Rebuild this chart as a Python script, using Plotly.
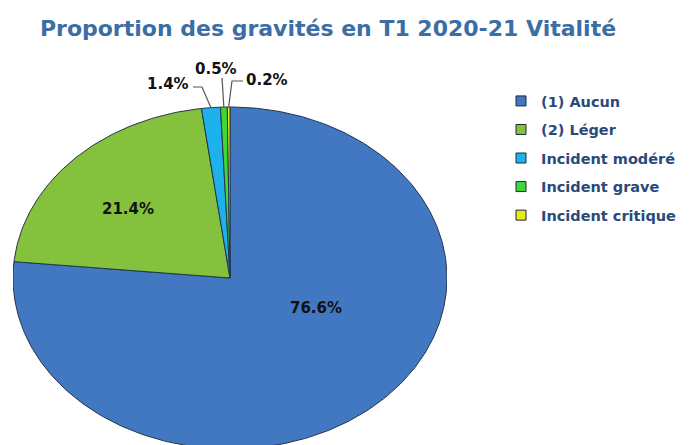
import numpy as np
import plotly.graph_objects as go

categories = ["(1) Aucun", "(2) Léger", "Incident modéré", "Incident grave", "Incident critique"]
values = [76.6, 21.4, 1.4, 0.5, 0.2]
colors = ["#4277c2", "#84c13d", "#1db2ec", "#3fd83a", "#e8e81a"]
labels = ["76.6%", "21.4%", "1.4%", "0.5%", "0.2%"]

OFF = 8  # page body margin
W, H = 694, 445
cx_px, cy_px = 230 - OFF, 278 - OFF
rx_px, ry_px = 217, 171
ml, mr, mt, mb = cx_px - rx_px, W - (cx_px + rx_px), 42, 0
x_rng = [-1, 1]
y_top = 1 + (cy_px - ry_px - mt) / ry_px
y_bot = y_top - (H - mt - mb) / ry_px

fig = go.Figure()
vals = np.array(values, dtype=float)
frac = vals / vals.sum()
cum = np.concatenate([[0], np.cumsum(frac)])
outline = "#24364a"

for i, name in enumerate(categories):
    t0, t1 = cum[i] * 2 * np.pi, cum[i + 1] * 2 * np.pi
    n = max(3, int((t1 - t0) / (2 * np.pi) * 400))
    th = np.linspace(t0, t1, n)
    xs = np.concatenate([[0], np.sin(th), [0]])
    ys = np.concatenate([[0], np.cos(th), [0]])
    fig.add_trace(go.Scatter(x=xs, y=ys, mode="lines", fill="toself",
                             fillcolor=colors[i], line=dict(color=outline, width=1),
                             showlegend=False, hoverinfo="skip"))

# legend entries
for i, name in enumerate(categories):
    fig.add_trace(go.Scatter(x=[None], y=[None], mode="markers", name=f"<b>{name}</b>",
                             legendgroup=f"g{i}",
                             marker=dict(symbol="square", size=10, color=colors[i],
                                         line=dict(color="#1e2a3a", width=1))))

# pixel (reference) -> data helpers for label placement
def px2x(px):
    return (px - OFF - cx_px) / rx_px

def px2y(py):
    return (cy_px - (py - OFF)) / ry_px

mid = (cum[:-1] + cum[1:]) / 2 * 2 * np.pi
lab_font = dict(family="DejaVu Sans", size=15, color="#111111")

# inside labels
inside_pos = {0: (316, 308), 1: (128, 209)}
for i, (px, py) in inside_pos.items():
    fig.add_annotation(x=px2x(px), y=px2y(py), text=f"<b>{labels[i]}</b>",
                       showarrow=False, font=lab_font)

# outside labels with leader lines
outside = {2: dict(text=(168, 84), elbow=[(193, 87), (202, 87)]),
           3: dict(text=(216, 69), elbow=[(222, 78)]),
           4: dict(text=(267, 80), elbow=[(243, 81), (232, 81)])}
for i, o in outside.items():
    ex, ey = np.sin(mid[i]), np.cos(mid[i])
    pts = [(px2x(a), px2y(b)) for a, b in o["elbow"]] + [(ex, ey)]
    fig.add_trace(go.Scatter(x=[p[0] for p in pts], y=[p[1] for p in pts], mode="lines",
                             line=dict(color="#555555", width=1.2), showlegend=False,
                             hoverinfo="skip"))
    fig.add_annotation(x=px2x(o["text"][0]), y=px2y(o["text"][1]), text=f"<b>{labels[i]}</b>",
                       showarrow=False, font=lab_font)

pw = W - ml - mr
ph = H - mt - mb
fig.update_layout(
    width=W, height=H,
    margin=dict(l=ml, r=mr, t=mt, b=mb),
    paper_bgcolor="white", plot_bgcolor="white",
    title=dict(text="<b>Proportion des gravités en T1 2020-21 Vitalité</b>",
               x=(328 - OFF) / W, xanchor="center", y=1 - (28 - OFF) / H, yanchor="middle",
               font=dict(family="DejaVu Sans", size=22, color="#3b6ea5")),
    xaxis=dict(range=x_rng, visible=False, fixedrange=True),
    yaxis=dict(range=[y_bot, y_top], visible=False, fixedrange=True),
    legend=dict(x=(505 - 4 - OFF - ml) / pw, y=(H - (85 - OFF) - mb) / ph,
                xanchor="left", yanchor="top", traceorder="grouped", tracegroupgap=6.7,
                font=dict(family="DejaVu Sans", size=14.5, color="#2a4a7a"),
                itemwidth=30, bgcolor="rgba(0,0,0,0)"),
    showlegend=True,
)

fig.write_html("out.html")
